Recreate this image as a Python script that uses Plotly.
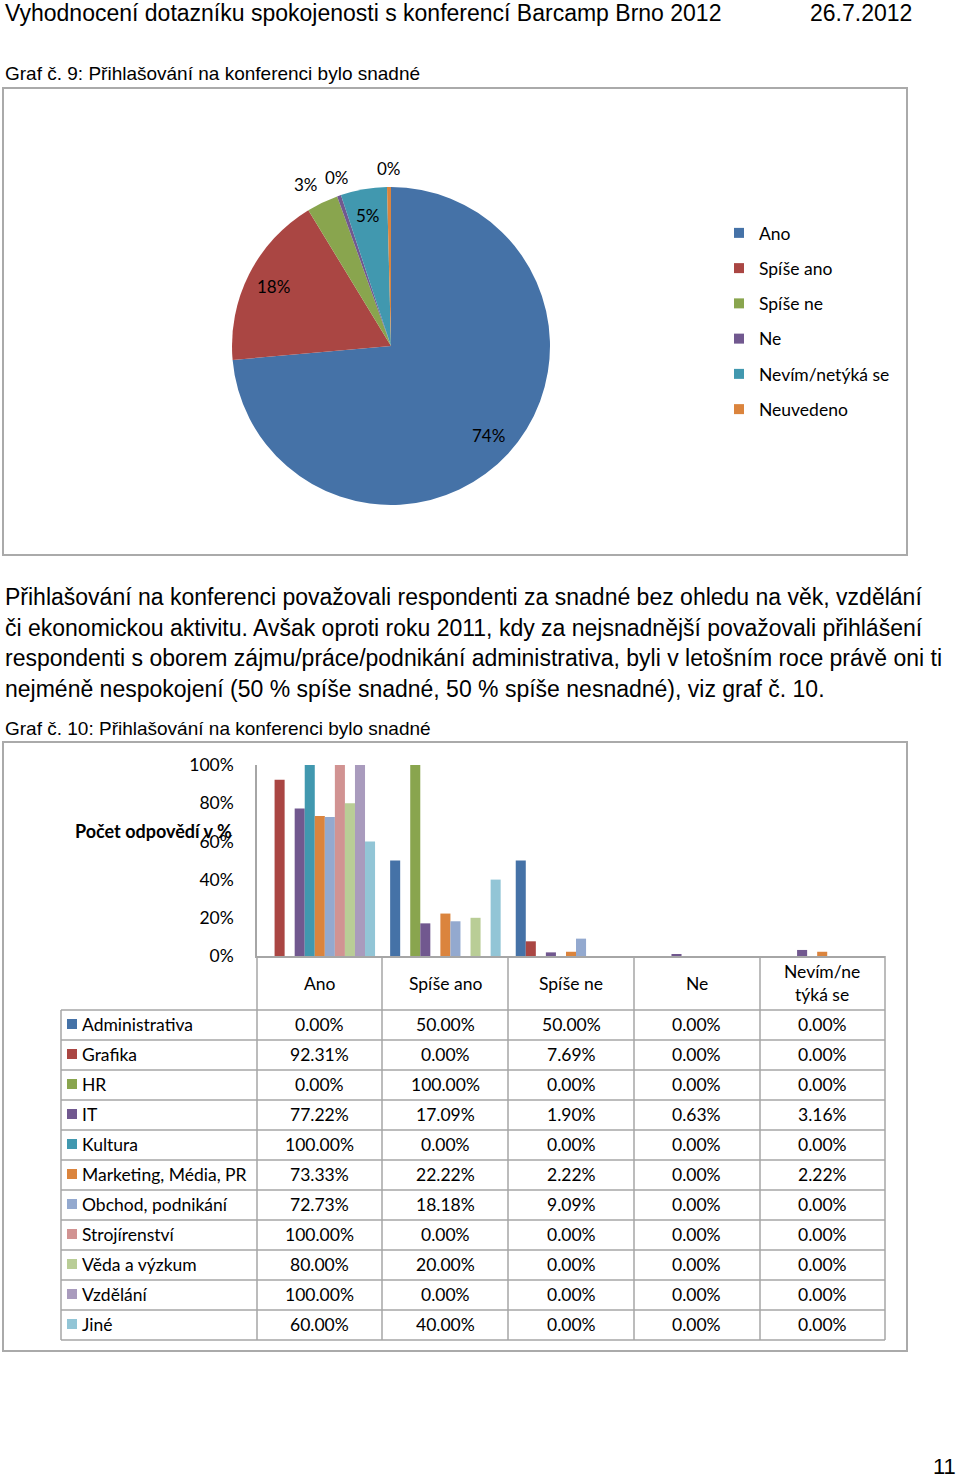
import math
import plotly.graph_objects as go

W, H = 960, 1479

# ---------------- data ----------------
header_title = "Vyhodnocení dotazníku spokojenosti s konferencí Barcamp Brno 2012"
header_date = "26.7.2012"
caption9 = "Graf č. 9: Přihlašování na konferenci bylo snadné"
caption10 = "Graf č. 10: Přihlašování na konferenci bylo snadné"
paragraph_lines = [
    "Přihlašování na konferenci považovali respondenti za snadné bez ohledu na věk, vzdělání",
    "či ekonomickou aktivitu. Avšak oproti roku 2011, kdy za nejsnadnější považovali přihlášení",
    "respondenti s oborem zájmu/práce/podnikání administrativa, byli v letošním roce právě oni ti",
    "nejméně nespokojení (50 % spíše snadné, 50 % spíše nesnadné), viz graf č. 10.",
]
page_number = "11"

pie_labels = ["Ano", "Spíše ano", "Spíše ne", "Ne", "Nevím/netýká se", "Neuvedeno"]
pie_values = [73.6, 17.7, 3.2, 0.4, 4.7, 0.4]
pie_colors = ["#4572A7", "#AA4643", "#89A54E", "#71588F", "#4198AF", "#DB843D"]

answers = ["Ano", "Spíše ano", "Spíše ne", "Ne", "Nevím/ne týká se"]
answer_headers = ["Ano", "Spíše ano", "Spíše ne", "Ne", "Nevím/ne<br>týká se"]

fields = ["Administrativa", "Grafika", "HR", "IT", "Kultura", "Marketing, Média, PR",
          "Obchod, podnikání", "Strojírenství", "Věda a výzkum", "Vzdělání", "Jiné"]
field_colors = ["#4572A7", "#AA4643", "#89A54E", "#71588F", "#4198AF", "#DB843D",
                "#93A9CF", "#D19392", "#B9CD96", "#A99BBD", "#92C5D6"]

administrativa = [0.00, 50.00, 50.00, 0.00, 0.00]
grafika = [92.31, 0.00, 7.69, 0.00, 0.00]
hr = [0.00, 100.00, 0.00, 0.00, 0.00]
it = [77.22, 17.09, 1.90, 0.63, 3.16]
kultura = [100.00, 0.00, 0.00, 0.00, 0.00]
marketing = [73.33, 22.22, 2.22, 0.00, 2.22]
obchod = [72.73, 18.18, 9.09, 0.00, 0.00]
strojirenstvi = [100.00, 0.00, 0.00, 0.00, 0.00]
veda = [80.00, 20.00, 0.00, 0.00, 0.00]
vzdelani = [100.00, 0.00, 0.00, 0.00, 0.00]
jine = [60.00, 40.00, 0.00, 0.00, 0.00]
series_values = [administrativa, grafika, hr, it, kultura, marketing, obchod,
                 strojirenstvi, veda, vzdelani, jine]

y_ticks = [0, 20, 40, 60, 80, 100]

# ---------------- helpers ----------------
def X(px):
    return px / W

def Y(py):
    return 1 - py / H

BODY = "Liberation Sans, Arial, sans-serif"
CAL = "Lato, Carlito, Calibri, sans-serif"
GRID = "#A6A6A6"
FS = 17.5

fig = go.Figure()
shapes = []
annotations = []

# ---------------- pie ----------------
cx, cy, r = 391, 346, 159
fig.add_trace(go.Pie(
    labels=pie_labels, values=pie_values, sort=False, direction="clockwise", rotation=0,
    marker=dict(colors=pie_colors, line=dict(width=0)),
    textinfo="none",
    domain=dict(x=[X(cx - r), X(cx + r)], y=[Y(cy + r), Y(cy - r)]),
    showlegend=False, hoverinfo="label+percent",
))

# pie data labels (Excel style: inside near the rim, small slices just outside)
total = sum(pie_values)
cum = 0.0
for v in pie_values:
    frac = v / total
    theta = 2 * math.pi * (cum + frac / 2)
    cum += frac
    s, c = math.sin(theta), math.cos(theta)
    if frac >= 0.04:
        d = 0.83 * r
        xa, ya = "center", "middle"
    else:
        d = r + 6
        xa = "right" if s < -0.4 else ("left" if s > 0.4 else "center")
        ya = "bottom" if c > 0.4 else ("top" if c < -0.4 else "middle")
    px = cx + d * s
    py = cy - d * c
    annotations.append(dict(xref="paper", yref="paper", x=X(px), y=Y(py), text=f"{round(frac * 100)}%",
                            showarrow=False, xanchor=xa, yanchor=ya,
                            font=dict(family=CAL, size=17, color="#000")))

# pie legend (one group per item for spacing)
for i, (lab, col) in enumerate(zip(pie_labels, pie_colors)):
    fig.add_trace(go.Scatter(
        x=[None], y=[None], mode="markers", name=lab,
        marker=dict(symbol="square", size=10, color=col),
        legendgroup=f"g{i}", showlegend=True, hoverinfo="skip",
    ))

# ---------------- bars ----------------
for name, col, vals in zip(fields, field_colors, series_values):
    fig.add_trace(go.Bar(
        x=answers, y=vals, name=name, marker=dict(color=col, line=dict(width=0)),
        showlegend=False, hovertemplate=name + ": %{y:.2f}%<extra></extra>",
    ))

# boxes
shapes.append(dict(type="rect", xref="paper", yref="paper", x0=X(3), x1=X(907), y0=Y(555), y1=Y(88),
                   line=dict(color="#AAAAAA", width=2)))
shapes.append(dict(type="rect", xref="paper", yref="paper", x0=X(3), x1=X(907), y0=Y(1351), y1=Y(742),
                   line=dict(color="#AAAAAA", width=2)))

# data table grid
col_edges = [257, 382, 508, 634, 760, 885]
row_top = 1010
row_h = 30
n_rows = len(fields)
bottom = row_top + row_h * n_rows
for xe in col_edges:
    shapes.append(dict(type="line", xref="paper", yref="paper", x0=X(xe), x1=X(xe), y0=Y(956), y1=Y(bottom),
                       line=dict(color=GRID, width=1.5)))
shapes.append(dict(type="line", xref="paper", yref="paper", x0=X(61), x1=X(61), y0=Y(row_top), y1=Y(bottom),
                   line=dict(color=GRID, width=1.5)))
for k in range(n_rows + 1):
    yy = row_top + k * row_h
    shapes.append(dict(type="line", xref="paper", yref="paper", x0=X(61), x1=X(885), y0=Y(yy), y1=Y(yy),
                       line=dict(color=GRID, width=1.5)))

# header labels
for a, lab in zip(answers, answer_headers):
    annotations.append(dict(xref="x", yref="paper", x=a, y=Y(983), text=lab, showarrow=False,
                            xanchor="center", yanchor="middle", font=dict(family=CAL, size=FS, color="#000")))

# rows
for i, (name, col, vals) in enumerate(zip(fields, field_colors, series_values)):
    yc = row_top + row_h * i + row_h / 2 - 1
    shapes.append(dict(type="rect", xref="paper", yref="paper", x0=X(67), x1=X(77), y0=Y(yc + 5), y1=Y(yc - 5),
                       fillcolor=col, line=dict(width=0)))
    annotations.append(dict(xref="paper", yref="paper", x=X(80), y=Y(yc), text=name, showarrow=False,
                            xanchor="left", yanchor="middle", font=dict(family=CAL, size=FS, color="#000")))
    for a, v in zip(answers, vals):
        annotations.append(dict(xref="x", yref="paper", x=a, y=Y(yc), text=f"{v:.2f}%", showarrow=False,
                                xanchor="center", yanchor="middle", font=dict(family=CAL, size=FS, color="#000")))

# y title
annotations.append(dict(xref="paper", yref="paper", x=X(73), y=Y(831), text="<b>Počet odpovědí v %</b>",
                        showarrow=False, xanchor="left", yanchor="middle", font=dict(family=CAL, size=18, color="#000")))

# page texts
annotations.append(dict(xref="paper", yref="paper", x=X(3), y=Y(13), text=header_title, showarrow=False,
                        xanchor="left", yanchor="middle", font=dict(family=BODY, size=23, color="#000")))
annotations.append(dict(xref="paper", yref="paper", x=X(914), y=Y(13), text=header_date, showarrow=False,
                        xanchor="right", yanchor="middle", font=dict(family=BODY, size=23, color="#000")))
annotations.append(dict(xref="paper", yref="paper", x=X(3), y=Y(74), text=caption9, showarrow=False,
                        xanchor="left", yanchor="middle", font=dict(family=BODY, size=19, color="#000")))
annotations.append(dict(xref="paper", yref="paper", x=X(3), y=Y(728), text=caption10, showarrow=False,
                        xanchor="left", yanchor="middle", font=dict(family=BODY, size=19, color="#000")))
for j, line in enumerate(paragraph_lines):
    annotations.append(dict(xref="paper", yref="paper", x=X(3), y=Y(597 + 30.7 * j), text=line, showarrow=False,
                            xanchor="left", yanchor="middle", font=dict(family=BODY, size=23, color="#000")))
annotations.append(dict(xref="paper", yref="paper", x=X(958), y=Y(1466), text=page_number, showarrow=False,
                        xanchor="right", yanchor="middle", font=dict(family=BODY, size=22, color="#000")))

fig.update_layout(
    template="none",
    width=W, height=H, margin=dict(l=0, r=0, t=0, b=0, pad=0, autoexpand=False),
    paper_bgcolor="white", plot_bgcolor="white",
    barmode="group", bargap=0.12, bargroupgap=0,
    shapes=shapes, annotations=annotations,
    legend=dict(x=X(719), y=Y(215), xanchor="left", yanchor="top", tracegroupgap=9.5,
                font=dict(family=CAL, size=FS, color="#000"), bgcolor="rgba(0,0,0,0)", borderwidth=0),
    xaxis=dict(domain=[X(257), X(885)], type="category", categoryorder="array", categoryarray=answers,
               range=[-0.5, len(answers) - 0.5], showticklabels=False, ticks="", showgrid=False,
               showline=True, linecolor=GRID, linewidth=1.5, zeroline=False, fixedrange=True, automargin=False),
    yaxis=dict(domain=[Y(956), Y(765)], range=[0, 100], tickvals=y_ticks,
               ticktext=[f"{t}%" for t in y_ticks],
               showgrid=False, zeroline=False, showline=True, linecolor=GRID, linewidth=1.5, ticks="",
               ticklabelstandoff=18, tickfont=dict(family=CAL, size=FS, color="#000"), fixedrange=True,
               automargin=False),
)

post = ("var s=document.createElement('style');"
        "s.textContent='html,body{margin:0!important;padding:0!important;overflow:hidden!important;"
        "width:960px;height:1479px;}';document.head.appendChild(s);"
        "var gd=document.getElementById('{plot_id}');gd.style.position='absolute';"
        "gd.style.left='0px';gd.style.top='0px';")
fig.write_html("out.html", post_script=post, config=dict(displayModeBar=False, responsive=False))
